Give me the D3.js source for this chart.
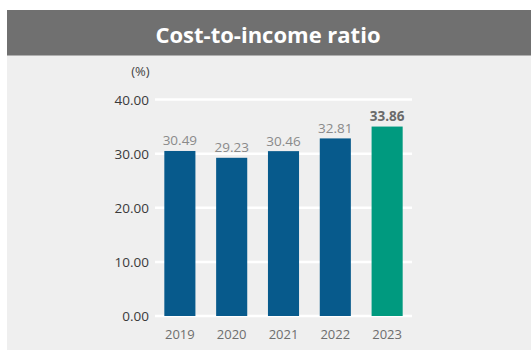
<!DOCTYPE html>
<html>
<head>
  <script src="https://d3js.org/d3.v7.min.js"></script>
  <style>
    body { margin: 0; background: #fff; }
    text { font-family: "Open Sans", "Noto Sans", sans-serif; }
  </style>
</head>
<body>
  <script>
    // Data
    var years = ["2019", "2020", "2021", "2022", "2023"];
    var labels = ["30.49", "29.23", "30.46", "32.81", "33.86"];
    // bar heights as drawn (the 2023 bar is drawn a little above its label value)
    var values = [30.49, 29.23, 30.46, 32.81, 35.0];
    var yTicks = [0, 10, 20, 30, 40];

    var W = 531, H = 350;

    var svg = d3.select("body")
      .append("svg")
      .attr("width", W)
      .attr("height", H);

    // panel background
    svg.append("rect")
      .attr("x", 7).attr("y", 55)
      .attr("width", W - 7).attr("height", H - 55)
      .attr("fill", "#efefef");

    // title bar
    svg.append("rect")
      .attr("x", 7).attr("y", 10)
      .attr("width", W - 7).attr("height", 45.5)
      .attr("fill", "#707070");

    svg.append("text")
      .attr("x", 268)
      .attr("y", 43)
      .attr("text-anchor", "middle")
      .attr("fill", "#fff")
      .attr("font-size", 22)
      .attr("font-weight", "bold")
      .text("Cost-to-income ratio");

    // scales
    var x = d3.scaleBand()
      .domain(years)
      .range([155, 412])
      .paddingInner(0.4)
      .paddingOuter(0.18);

    var y = d3.scaleLinear()
      .domain([0, 40])
      .range([316, 99.5]);

    // gridlines
    svg.selectAll(".grid")
      .data(yTicks)
      .enter().append("line")
      .attr("class", "grid")
      .attr("x1", 155).attr("x2", 412)
      .attr("y1", function(d) { return y(d); })
      .attr("y2", function(d) { return y(d); })
      .attr("stroke", "#fff")
      .attr("stroke-width", 2.5);

    // y tick labels
    svg.selectAll(".ytick")
      .data(yTicks)
      .enter().append("text")
      .attr("class", "ytick")
      .attr("x", 149)
      .attr("y", function(d) { return y(d) + 5; })
      .attr("text-anchor", "end")
      .attr("fill", "#3a3a3a")
      .attr("font-size", 13.5)
      .text(function(d) { return d.toFixed(2); });

    svg.append("text")
      .attr("x", 140.5)
      .attr("y", 75.5)
      .attr("text-anchor", "middle")
      .attr("fill", "#444")
      .attr("font-size", 13)
      .text("(%)");

    // bars
    svg.selectAll(".bar")
      .data(values)
      .enter().append("rect")
      .attr("class", "bar")
      .attr("x", function(d, i) { return x(years[i]); })
      .attr("width", x.bandwidth())
      .attr("y", function(d) { return y(d); })
      .attr("height", function(d) { return y(0) - y(d); })
      .attr("fill", function(d, i) { return i === years.length - 1 ? "#009a7f" : "#075a8c"; });

    // value labels
    svg.selectAll(".vlabel")
      .data(values)
      .enter().append("text")
      .attr("class", "vlabel")
      .attr("x", function(d, i) { return x(years[i]) + x.bandwidth() / 2; })
      .attr("y", function(d) { return y(d) - 5.5; })
      .attr("text-anchor", "middle")
      .attr("font-size", 13.5)
      .attr("font-weight", function(d, i) { return i === years.length - 1 ? "bold" : "normal"; })
      .attr("fill", function(d, i) { return i === years.length - 1 ? "#6a6a6a" : "#8a8a8a"; })
      .text(function(d, i) { return labels[i]; });

    // x labels
    svg.selectAll(".xlabel")
      .data(years)
      .enter().append("text")
      .attr("class", "xlabel")
      .attr("x", function(d) { return x(d) + x.bandwidth() / 2; })
      .attr("y", 339)
      .attr("text-anchor", "middle")
      .attr("fill", "#6e6e6e")
      .attr("font-size", 13)
      .text(function(d) { return d; });
  </script>
</body>
</html>
